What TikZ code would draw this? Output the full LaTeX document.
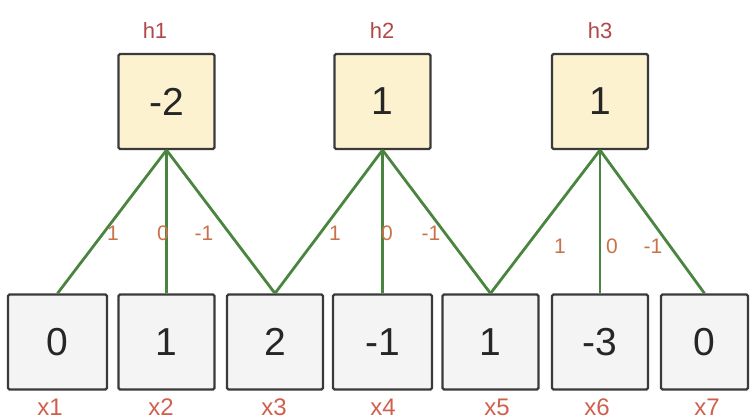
\documentclass[tikz,border=0pt]{standalone}
\usepackage{fontspec}
\setmainfont{Liberation Sans}
\definecolor{wiregreen}{HTML}{4A8540}
\definecolor{boxline}{HTML}{3A3A3A}
\definecolor{hfill}{HTML}{FCF2CF}
\definecolor{xfill}{HTML}{F4F4F4}
\definecolor{xlabel}{HTML}{D0604E}
\definecolor{hlabel}{HTML}{B04848}
\definecolor{wlabel}{HTML}{C8724A}
\begin{document}
\begin{tikzpicture}[x=1pt,y=-1pt,
  cell/.style={draw=boxline, line width=2.2pt, rounded corners=1.5pt,
    minimum height=95pt, inner sep=0pt, text=black!85,
    font=\fontsize{39}{42}\selectfont},
  hcell/.style={cell, fill=hfill, minimum width=96pt},
  xcell/.style={cell, fill=xfill, minimum width=96pt},
  wire/.style={wiregreen, line width=2.8pt},
  xname/.style={text=xlabel, font=\fontsize{24}{26}\selectfont, inner sep=0pt},
  hname/.style={text=hlabel, font=\fontsize{22}{24}\selectfont, inner sep=0pt},
  weight/.style={text=wlabel, font=\fontsize{21}{23}\selectfont, inner sep=0pt}]
\useasboundingbox (0,0) rectangle (750,420);

% input row
\node[xcell, minimum width=99pt] (x1) at (57.5,342) {0};
\node[xcell] (x2) at (166.5,342) {1};
\node[xcell] (x3) at (275,342) {2};
\node[xcell, minimum width=99pt] (x4) at (382.5,342) {-1};
\node[xcell] (x5) at (490.5,342) {1};
\node[xcell] (x6) at (600,342) {-3};
\node[xcell, minimum width=87pt] (x7) at (704.5,342) {0};

% output row
\node[hcell] (h1) at (166.5,101.5) {-2};
\node[hcell] (h2) at (382.5,101.5) {1};
\node[hcell] (h3) at (600,101.5) {1};

% kernel connections
\draw[wire] (h1.south) -- (x1.north);
\draw[wire] (h1.south) -- (x2.north);
\draw[wire] (h1.south) -- (x3.north);
\draw[wire] (h2.south) -- (x3.north);
\draw[wire] (h2.south) -- (x4.north);
\draw[wire] (h2.south) -- (x5.north);
\draw[wire] (h3.south) -- (x5.north);
\draw[wire] (h3.south) -- (x6.north);
\draw[wire] (h3.south) -- (x7.north);

% kernel weights
\node[weight] (w11) at (113,233) {1};
\node[weight] (w12) at (163,233) {0};
\node[weight] (w13) at (204,233) {-1};
\node[weight] (w21) at (335,233) {1};
\node[weight] (w22) at (387,233) {0};
\node[weight] (w23) at (431,233) {-1};
\node[weight] (w31) at (560,246) {1};
\node[weight] (w32) at (612,246) {0};
\node[weight] (w33) at (653,246) {-1};

% output labels
\node[hname] (lh1) at (155,31) {h1};
\node[hname] (lh2) at (382,31) {h2};
\node[hname] (lh3) at (600,31) {h3};

% input labels
\node[xname] (lx1) at (50,407) {x1};
\node[xname] (lx2) at (161,407) {x2};
\node[xname] (lx3) at (274,407) {x3};
\node[xname] (lx4) at (383,407) {x4};
\node[xname] (lx5) at (497,407) {x5};
\node[xname] (lx6) at (597,407) {x6};
\node[xname] (lx7) at (707,407) {x7};
\end{tikzpicture}
\end{document}
